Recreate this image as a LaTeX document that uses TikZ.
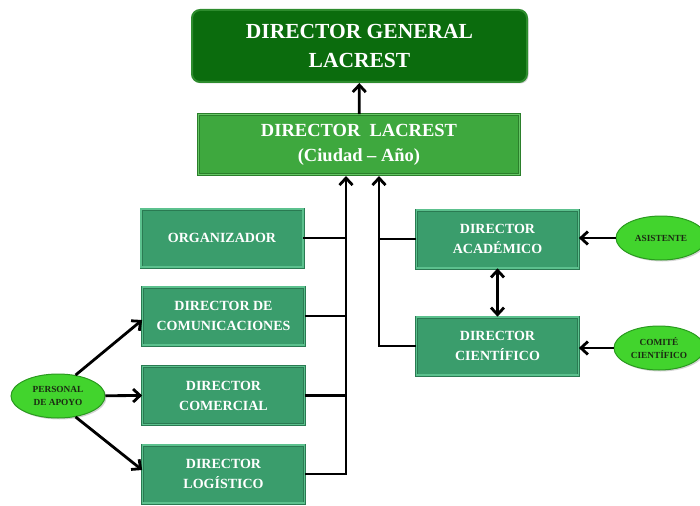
\documentclass[tikz,border=0pt]{standalone}
\usepackage{fontspec}
\setmainfont{Liberation Serif}
\usetikzlibrary{shapes.geometric,arrows.meta,shadows}

\definecolor{verdeosc}{HTML}{0B6C0D}
\definecolor{verdeosclin}{HTML}{2E8C2E}
\definecolor{verdemed}{HTML}{3EA83E}
\definecolor{verdemedlin}{HTML}{66C766}
\definecolor{verdemedborde}{HTML}{2B7F2B}
\definecolor{verdecaja}{HTML}{3A9D6C}
\definecolor{verdecajalin}{HTML}{5CC18E}
\definecolor{verdecajaborde}{HTML}{2A7A52}
\definecolor{verdeelip}{HTML}{42D42D}
\definecolor{verdeeliplin}{HTML}{2A9A1F}
\definecolor{textoelip}{HTML}{1B2B12}

\begin{document}
\begin{tikzpicture}[
    x=1pt, y=-1pt,
    sombra/.style={drop shadow={opacity=0.35, shadow xshift=1.5pt, shadow yshift=-1.5pt}},
    jefe/.style={rectangle, rounded corners=8pt, draw=verdeosclin, line width=2pt,
        fill=verdeosc, text=white, sombra, align=center,
        minimum width=335pt, minimum height=72pt,
        font=\bfseries\fontsize{21.5}{29}\selectfont},
    director/.style={rectangle, draw=verdemedborde, double=verdemedlin, double distance=1.6pt,
        line width=0.7pt, fill=verdemed,
        text=white, sombra, align=center, minimum width=321pt, minimum height=60pt,
        font=\bfseries\fontsize{18.5}{25}\selectfont},
    caja/.style={rectangle, draw=verdecajaborde, double=verdecajalin, double distance=1.6pt,
        line width=0.7pt, fill=verdecaja,
        text=white, sombra, align=center, minimum width=162pt, minimum height=58pt,
        font=\bfseries\fontsize{14}{20}\selectfont},
    apoyo/.style={ellipse, draw=verdeeliplin, line width=1pt, fill=verdeelip,
        text=textoelip, sombra, align=center, inner sep=0pt,
        minimum width=90pt, minimum height=44pt,
        font=\bfseries\fontsize{9.3}{12.5}\selectfont},
    flecha/.style={line width=2.8pt, -{Straight Barb[length=7pt,width=13pt]}},
    doble/.style={line width=2.8pt, {Straight Barb[length=7pt,width=13pt]}-{Straight Barb[length=7pt,width=13pt]}},
    linea/.style={line width=2.8pt},
  ]
  \useasboundingbox (0,0) rectangle (700,505);

  % cabeza del organigrama
  \node[jefe] (general) at (359.5,46) {DIRECTOR GENERAL\\LACREST};
  \node[director] (lacrest) at (359,144.5) {DIRECTOR\ \ LACREST\\(Ciudad -- Año)};

  % rama izquierda
  \node[caja] (org) at (222,238) {ORGANIZADOR};
  \node[caja] (comu) at (223.5,316) {DIRECTOR DE\\COMUNICACIONES};
  \node[caja] (come) at (223.5,395.5) {DIRECTOR\\COMERCIAL};
  \node[caja] (logi) at (223.5,474) {DIRECTOR\\LOGÍSTICO};

  % rama derecha
  \node[caja] (acad) at (497.5,239) {DIRECTOR\\ACADÉMICO};
  \node[caja] (cien) at (497.5,346) {DIRECTOR\\CIENTÍFICO};

  % apoyo
  \node[apoyo] (asis) at (661,238) {ASISTENTE};
  \node[apoyo] (comite) at (659,348) {COMITÉ\\CIENTÍFICO};
  \node[apoyo, minimum width=94pt] (personal) at (58,396) {PERSONAL\\DE APOYO};

  \coordinate (pieL) at (346,176);
  \coordinate (pieR) at (379,176);

  % conexiones
  \draw[flecha] (lacrest) -- (general);
  \draw[flecha] (logi.east) -| (pieL);
  \draw[linea] (org.east) -- (org.east -| pieL);
  \draw[linea] (comu.east) -- (comu.east -| pieL);
  \draw[linea] (come.east) -- (come.east -| pieL);
  \draw[flecha] (cien.west) -| (pieR);
  \draw[linea] (acad.west) -- (acad.west -| pieR);
  \draw[doble] (acad) -- (cien);
  \draw[flecha] (asis) -- (acad.east |- asis);
  \draw[flecha] (comite) -- (cien.east |- comite);
  \draw[flecha] (personal.50) -- ([yshift=-4pt]comu.west);
  \draw[flecha] (personal) -- (come.west);
  \draw[flecha] (personal.-50) -- ([yshift=4pt]logi.west);
\end{tikzpicture}
\end{document}
